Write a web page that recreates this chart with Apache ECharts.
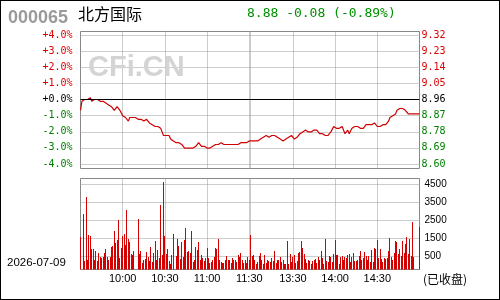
<!DOCTYPE html>
<html><head><meta charset="utf-8">
<script src="https://cdn.jsdelivr.net/npm/echarts@6/dist/echarts.min.js"></script>
<style>
html,body{margin:0;padding:0;background:#fff;}
#wrap{position:relative;width:500px;height:300px;}
#chart{position:absolute;left:0;top:0;width:500px;height:300px;}
#frame{position:absolute;left:0;top:0;width:500px;height:300px;box-sizing:border-box;border:1px solid #000;pointer-events:none;}
</style></head><body>
<div id="wrap"><div id="chart"></div><div id="frame"></div></div>
<script>
const stockCode = '000065';
const stockName = '北方国际';
const prevClose = 8.96;
const tradeDate = '2026-07-09';
const statusText = '(已收盘)';
const watermark = 'CFi.CN';

const gridTimes = ['10:00','10:30','11:00','11:30','13:00','13:30','14:00','14:30'];
const timeLabels = ['10:00','10:30','11:00','11:30','13:30','14:00','14:30'];
const pctTicks = [-4,-3,-2,-1,0,1,2,3,4];
const volTicks = [500,1500,2500,3500,4500];

function sessionTimes(h0, m0, h1, m1) {
  const out = [];
  for (let t = h0*60+m0; t <= h1*60+m1; t++) {
    out.push(String(Math.floor(t/60)).padStart(2,'0') + ':' + String(t%60).padStart(2,'0'));
  }
  return out;
}
const categories = sessionTimes(9,30,11,30).concat(sessionTimes(13,0,15,0));

const prices = [
8.90,8.95,8.96,8.96,8.96,8.96,8.97,8.97,8.95,8.95,
8.96,8.96,8.96,8.96,8.95,8.95,8.95,8.94,8.94,8.93,
8.93,8.93,8.92,8.91,8.90,8.91,8.92,8.91,8.90,8.89,
8.87,8.87,8.86,8.86,8.84,8.86,8.86,8.86,8.86,8.86,
8.86,8.85,8.85,8.85,8.85,8.84,8.84,8.85,8.84,8.83,
8.82,8.82,8.81,8.81,8.81,8.81,8.81,8.80,8.78,8.76,
8.75,8.76,8.75,8.76,8.74,8.74,8.73,8.73,8.72,8.71,
8.72,8.72,8.71,8.71,8.69,8.70,8.69,8.69,8.69,8.69,
8.69,8.69,8.70,8.71,8.72,8.72,8.70,8.70,8.70,8.70,
8.69,8.69,8.69,8.70,8.70,8.70,8.71,8.70,8.71,8.72,
8.72,8.71,8.71,8.71,8.71,8.71,8.71,8.71,8.71,8.71,
8.71,8.71,8.71,8.72,8.72,8.72,8.72,8.72,8.72,8.72,
8.73,8.73,
8.73,8.73,8.73,8.73,8.73,8.74,8.74,8.74,8.75,8.76,
8.76,8.76,8.75,8.76,8.76,8.75,8.76,8.76,8.75,8.74,
8.74,8.73,8.73,8.74,8.74,8.74,8.75,8.76,8.76,8.75,
8.74,8.74,8.75,8.76,8.77,8.77,8.78,8.78,8.79,8.78,
8.78,8.78,8.78,8.78,8.79,8.79,8.79,8.78,8.77,8.77,
8.77,8.78,8.76,8.75,8.76,8.77,8.78,8.79,8.81,8.81,
8.80,8.80,8.80,8.81,8.81,8.80,8.77,8.76,8.79,8.77,
8.78,8.80,8.81,8.81,8.81,8.81,8.80,8.80,8.80,8.80,
8.81,8.82,8.83,8.82,8.81,8.82,8.83,8.83,8.83,8.81,
8.81,8.81,8.82,8.82,8.82,8.82,8.83,8.84,8.86,8.87,
8.87,8.87,8.88,8.90,8.91,8.91,8.90,8.91,8.90,8.90,
8.89,8.88,8.88,8.88,8.88,8.88,8.88,8.88,8.88,8.88
];

const volumes = [
1574,0,2850,200,3796,300,1685,1630,907,907,
300,796,204,685,426,389,463,648,907,463,
300,426,981,1037,1907,1241,1407,2518,407,963,
1592,1722,1130,3074,1444,1296,630,574,796,0,
0,2574,630,796,130,296,352,741,426,200,
1018,185,685,1352,296,852,370,3352,574,4630,
1630,630,907,241,74,574,1741,0,519,1463,
1074,352,1296,463,1407,2074,741,796,685,1907,
185,300,1018,852,1296,296,574,407,241,389,
963,407,130,185,296,463,963,907,1463,296,
185,130,130,296,519,296,296,130,407,296,
296,185,574,463,685,296,130,296,130,463,
296,1685,
519,574,296,74,185,519,685,300,74,574,
130,296,241,185,407,200,796,130,296,296,
463,185,300,74,74,1352,74,630,185,463,
574,130,241,685,741,1352,963,630,352,130,
296,241,74,250,296,352,130,463,296,796,
407,74,1463,241,185,519,463,185,630,1407,
574,574,74,463,519,296,463,407,574,630,
185,463,685,241,241,300,519,796,296,407,
741,519,296,519,185,852,185,963,907,1407,
407,907,352,185,407,352,407,796,1519,463,
296,685,1352,1296,630,907,519,1352,685,1185,
1574,630,1463,480,2407,463,0,0,0,2130
];

const volBase = -250;
const lastPrice = prices[prices.length - 1];
const pctData = prices.map(p => (p / prevClose - 1) * 100);
const volData = volumes.map((v, i) => [i, v]);
const quoteText = lastPrice.toFixed(2) + ' ' + (lastPrice - prevClose).toFixed(2) +
  ' (' + ((lastPrice / prevClose - 1) * 100).toFixed(2) + '%)';

const dotted = { color: '#9a9a9a', width: 1, type: [1, 1] };
const mono = 'DejaVu Sans Mono';
const sans = 'Liberation Sans';
const red = '#dd0000', green = '#008000';

function renderVolume(params, api) {
  const v = api.value(1);
  if (!(v > 0)) return null;
  const top = api.coord([api.value(0), v]);
  const bottom = api.coord([api.value(0), volBase]);
  const x = Math.floor(top[0]);
  const y0 = Math.round(top[1]);
  const y1 = Math.round(bottom[1]);
  return { type: 'rect', shape: { x: x, y: y0, width: 1, height: y1 - y0 },
    style: { fill: '#d40000' } };
}

const chart = echarts.init(document.getElementById('chart'), null, { renderer: 'canvas' });
chart.setOption({
  animation: false,
  backgroundColor: '#fff',
  grid: [
    { left: 80.5, top: 31.5, width: 339, height: 137, show: true, borderColor: '#888', borderWidth: 1, backgroundColor: 'transparent' },
    { left: 80.5, top: 35, width: 339, height: 129 },
    { left: 80.5, top: 178.5, width: 339, height: 91, show: true, borderColor: '#888', borderWidth: 1, backgroundColor: 'transparent' },
    { left: 80.5, top: 184, width: 339, height: 72 }
  ],
  xAxis: [
    { gridIndex: 0, type: 'category', data: categories, boundaryGap: false,
      axisLine: { show: false }, axisTick: { show: false }, axisLabel: { show: false },
      splitLine: { show: true, interval: (i, v) => gridTimes.includes(v), lineStyle: dotted } },
    { gridIndex: 1, type: 'category', data: categories, boundaryGap: false, show: false },
    { gridIndex: 2, type: 'category', data: categories, boundaryGap: false,
      axisLine: { show: false }, axisTick: { show: false },
      axisLabel: { show: true, interval: (i, v) => timeLabels.includes(v), fontSize: 11, fontFamily: sans, color: '#000', margin: 4 },
      splitLine: { show: true, interval: (i, v) => gridTimes.includes(v), lineStyle: dotted } },
    { gridIndex: 3, type: 'category', data: categories, boundaryGap: false, show: false }
  ],
  yAxis: [
    { gridIndex: 0, type: 'value', min: 0, max: 1, show: false },
    { gridIndex: 1, type: 'value', position: 'left', min: pctTicks[0], max: pctTicks[pctTicks.length-1], interval: 1,
      axisLine: { show: false }, axisTick: { show: false },
      splitLine: { show: true, lineStyle: dotted },
      axisLabel: { fontFamily: mono, fontSize: 10, margin: 8,
        formatter: v => (v >= 0 ? '+' : '-') + Math.abs(v).toFixed(1) + '%',
        color: v => (Number(v) > 0 ? red : (Number(v) < 0 ? green : '#000')) } },
    { gridIndex: 1, type: 'value', position: 'right', min: pctTicks[0], max: pctTicks[pctTicks.length-1], interval: 1,
      axisLine: { show: false }, axisTick: { show: false }, splitLine: { show: false },
      axisLabel: { fontFamily: mono, fontSize: 10, margin: 2,
        formatter: v => (prevClose * (1 + v / 100)).toFixed(2),
        color: v => (Number(v) > 0 ? red : (Number(v) < 0 ? green : '#000')) } },
    { gridIndex: 2, type: 'value', min: volBase, max: 4806, show: false },
    { gridIndex: 3, type: 'value', position: 'right', min: volTicks[0], max: volTicks[volTicks.length-1], interval: 1000,
      axisLine: { show: false }, axisTick: { show: false },
      splitLine: { show: true, lineStyle: dotted },
      axisLabel: { fontFamily: sans, fontSize: 10, color: '#000', margin: 5, formatter: v => String(v) } }
  ],
  series: [
    { type: 'line', xAxisIndex: 1, yAxisIndex: 1, data: pctData, symbol: 'none', z: 3,
      lineStyle: { color: '#d00000', width: 1.2 },
      markLine: { silent: true, symbol: 'none', label: { show: false },
        lineStyle: { color: '#000', type: 'solid', width: 1 }, data: [{ yAxis: 0 }] } },
    { type: 'custom', xAxisIndex: 2, yAxisIndex: 3, data: volData, renderItem: renderVolume, clip: true,
      encode: { x: 0, y: 1 } }
  ],
  graphic: [
    { type: 'text', left: 88, top: 53, z: 1, style: { text: watermark, font: 'bold 29px "Liberation Sans"', fill: '#d4d4d4' } },
    { type: 'text', left: 8, top: 9, style: { text: stockCode, font: 'bold 18px "Liberation Sans"', fill: '#9a9a9a' } },
    { type: 'text', left: 78, top: 6, style: { text: stockName, font: '16px "Noto Sans CJK SC"', fill: '#000' } },
    { type: 'text', left: 247, top: 7, style: { text: quoteText, font: '13px "DejaVu Sans Mono"', fill: '#009000' } },
    { type: 'text', left: 7, top: 257, style: { text: tradeDate, font: '11.5px "Liberation Sans"', fill: '#000' } },
    { type: 'text', left: 423, top: 273, style: { text: statusText, font: '12px "Noto Sans CJK SC"', fill: '#000' } }
  ]
});
</script>
</body></html>
